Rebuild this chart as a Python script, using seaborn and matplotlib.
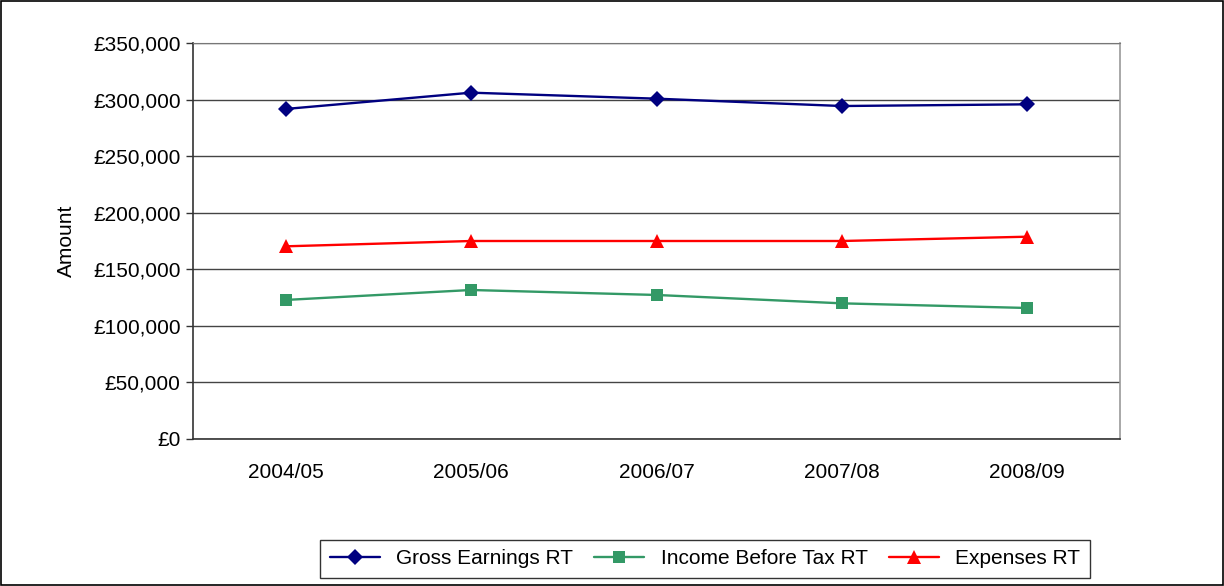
import matplotlib
matplotlib.use('Agg')
import matplotlib.pyplot as plt
import seaborn as sns
import pandas as pd
import numpy as np
from matplotlib.ticker import FuncFormatter, FixedLocator

years = ['2004/05', '2005/06', '2006/07', '2007/08', '2008/09']
gross_earnings = [291700, 306100, 300800, 294300, 295800]
income_before_tax = [122900, 131700, 127300, 119900, 115800]
expenses = [170300, 175000, 175000, 175000, 178800]

series = {
    'Gross Earnings RT': gross_earnings,
    'Income Before Tax RT': income_before_tax,
    'Expenses RT': expenses,
}

rows = []
for name, vals in series.items():
    for i, v in enumerate(vals):
        rows.append({'pos': i, 'year': years[i], 'series': name, 'amount': v})
df = pd.DataFrame(rows)

sns.set_style('white')
plt.rcParams['font.family'] = ['Liberation Sans', 'DejaVu Sans']
plt.rcParams['text.color'] = 'black'
plt.rcParams['axes.labelcolor'] = 'black'
plt.rcParams['xtick.color'] = 'black'
plt.rcParams['ytick.color'] = 'black'

fig = plt.figure(figsize=(12.24, 5.86), dpi=100)
ax = fig.add_axes([193 / 1224, 1 - 439 / 586, (1120 - 193) / 1224, (439 - 43) / 586])

colors = {'Gross Earnings RT': '#000080', 'Income Before Tax RT': '#339966', 'Expenses RT': '#FF0000'}
markers = {'Gross Earnings RT': 'D', 'Income Before Tax RT': 's', 'Expenses RT': '^'}
msizes = {'Gross Earnings RT': 8.5, 'Income Before Tax RT': 8.5, 'Expenses RT': 10}

for name in series:
    sub = df[df['series'] == name]
    sns.lineplot(data=sub, x='pos', y='amount', ax=ax, color=colors[name],
                 marker=markers[name], markersize=msizes[name], markeredgewidth=0,
                 linewidth=1.7, label=name)

fs = 15
ax.set_xlim(-0.5, len(years) - 0.5)
ax.set_ylim(0, 350000)
ax.yaxis.set_major_locator(FixedLocator(np.arange(0, 350001, 50000)))
ax.yaxis.set_major_formatter(FuncFormatter(lambda v, p: '£{:,.0f}'.format(v)))
ax.set_xticks(range(len(years)))
ax.set_xticklabels(years)
ax.set_xticks(np.arange(-0.5, len(years), 1.0), minor=True)
ax.tick_params(axis='x', which='major', length=0, pad=17, labelsize=fs, labelcolor='black')
ax.tick_params(axis='x', which='minor', length=6, width=1, direction='out', color='#333333')
ax.tick_params(axis='y', which='major', length=5, width=1, direction='out', left=True,
               labelsize=fs, pad=4, color='#333333', labelcolor='black')
ax.set_xlabel('')
ax.set_ylabel('Amount', fontsize=fs, labelpad=12, color='black')

ax.grid(axis='y', color='#444444', linewidth=1)
ax.set_axisbelow(True)
for side in ['left', 'bottom']:
    ax.spines[side].set_color('#333333')
    ax.spines[side].set_linewidth(1.2)
ax.spines['right'].set_color('#999999')
ax.spines['top'].set_color('#777777')
ax.spines['right'].set_linewidth(1.2)

leg = ax.legend(loc='center', bbox_to_anchor=(705 / 1224, 1 - 559 / 586),
                bbox_transform=fig.transFigure, ncol=3, frameon=True, fancybox=False,
                edgecolor='black', fontsize=fs, handlelength=2.4, columnspacing=1.0,
                handletextpad=0.8, borderpad=0.45, borderaxespad=0)
leg.get_frame().set_linewidth(1)
for t in leg.get_texts():
    t.set_color('black')

fig.patches.append(plt.Rectangle((0.0008, 0.001), 0.998, 0.997, transform=fig.transFigure,
                                 fill=False, edgecolor='black', linewidth=1.2))

fig.savefig('out.png', dpi=100)
